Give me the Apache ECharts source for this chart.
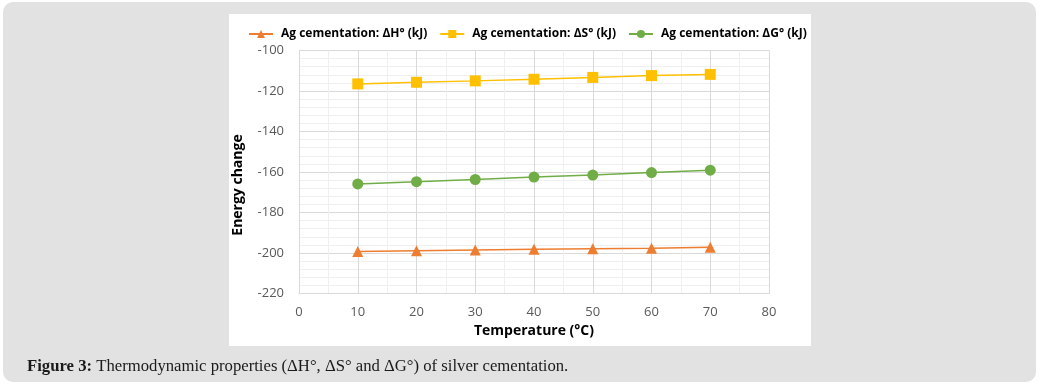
<!DOCTYPE html>
<html>
<head>
<meta charset="utf-8">
<script src="https://cdn.jsdelivr.net/npm/echarts@6/dist/echarts.min.js"></script>
<style>
html,body{margin:0;padding:0;background:#fff;}
#c{width:1040px;height:387px;}
</style>
</head>
<body>
<div id="c"></div>
<script>
const temperatures = [10, 20, 30, 40, 50, 60, 70];
const deltaH = [-199.3, -198.9, -198.5, -198.2, -197.9, -197.6, -197.2];
const deltaS = [-116.5, -115.7, -115.0, -114.2, -113.3, -112.4, -111.8];
const deltaG = [-165.9, -164.8, -163.7, -162.5, -161.5, -160.3, -159.1];
const seriesNames = ['Ag cementation: \u0394H\u00b0 (kJ)', 'Ag cementation: \u0394S\u00b0 (kJ)', 'Ag cementation: \u0394G\u00b0 (kJ)'];
const xTitle = 'Temperature (\u00b0C)';
const yTitle = 'Energy change';
const captionBold = 'Figure 3:';
const captionRest = ' Thermodynamic properties (\u0394H\u00b0, \u0394S\u00b0 and \u0394G\u00b0) of silver cementation.';

const pairs = arr => temperatures.map((t, i) => [t, arr[i]]);

const chart = echarts.init(document.getElementById('c'), null, {renderer: 'canvas'});
const labelFont = '"Open Sans", sans-serif';
chart.setOption({
  animation: false,
  backgroundColor: '#ffffff',
  graphic: [
    {type: 'rect', z: -10, silent: true, shape: {x: 3, y: 2, width: 1033, height: 380, r: 10}, style: {fill: '#e2e2e2'}},
    {type: 'rect', z: -9, silent: true, shape: {x: 229, y: 14, width: 582, height: 332}, style: {fill: '#ffffff'}},
    {type: 'text', z: 5, left: 27, top: 358, style: {
      text: '{b|' + captionBold + '}{n|' + captionRest + '}',
      rich: {
        b: {fontFamily: '"Liberation Serif", serif', fontWeight: 'bold', fontSize: 16.7, fill: '#1a1a1a'},
        n: {fontFamily: '"Liberation Serif", serif', fontSize: 16.7, fill: '#1a1a1a'}
      }
    }}
  ],
  legend: {
    top: 23,
    left: 243,
    itemWidth: 24,
    itemHeight: 10,
    itemGap: 12,
    textStyle: {fontFamily: labelFont, fontWeight: 'bold', fontSize: 12, color: '#000', padding: [0, 0, 0, 3]},
    data: seriesNames
  },
  grid: {left: 299, right: 271, top: 50.5, bottom: 93.5},
  xAxis: {
    type: 'value', min: 0, max: 80, interval: 10,
    name: xTitle, nameLocation: 'middle', nameGap: 31,
    nameTextStyle: {fontFamily: labelFont, fontWeight: 'bold', fontSize: 14, color: '#000'},
    axisLine: {show: true, lineStyle: {color: '#d9d9d9'}},
    axisTick: {show: false},
    axisLabel: {fontFamily: labelFont, fontSize: 13, color: '#595959', margin: 12},
    splitLine: {show: true, lineStyle: {color: '#d9d9d9'}},
    minorTick: {show: false, splitNumber: 2},
    minorSplitLine: {show: true, lineStyle: {color: '#efefef'}}
  },
  yAxis: {
    type: 'value', min: -220, max: -100, interval: 20,
    name: yTitle, nameLocation: 'middle', nameGap: 54, nameRotate: 90,
    nameTextStyle: {fontFamily: labelFont, fontWeight: 'bold', fontSize: 14, color: '#000', padding: [0, 26, 0, 0]},
    axisLine: {show: true, lineStyle: {color: '#d9d9d9'}},
    axisTick: {show: false},
    axisLabel: {fontFamily: labelFont, fontSize: 13, color: '#595959', margin: 15},
    splitLine: {show: true, lineStyle: {color: '#d9d9d9'}},
    minorTick: {show: false, splitNumber: 5},
    minorSplitLine: {show: true, lineStyle: {color: '#efefef'}}
  },
  series: [
    {name: seriesNames[0], type: 'line', data: pairs(deltaH), symbol: 'triangle', symbolSize: 11,
     itemStyle: {color: '#ED7D31'}, lineStyle: {color: '#ED7D31', width: 1.5}},
    {name: seriesNames[1], type: 'line', data: pairs(deltaS), symbol: 'rect', symbolSize: 11,
     itemStyle: {color: '#FFC000'}, lineStyle: {color: '#FFC000', width: 1.5}},
    {name: seriesNames[2], type: 'line', data: pairs(deltaG), symbol: 'circle', symbolSize: 11,
     itemStyle: {color: '#70AD47'}, lineStyle: {color: '#70AD47', width: 1.5}}
  ]
});
</script>
</body>
</html>
